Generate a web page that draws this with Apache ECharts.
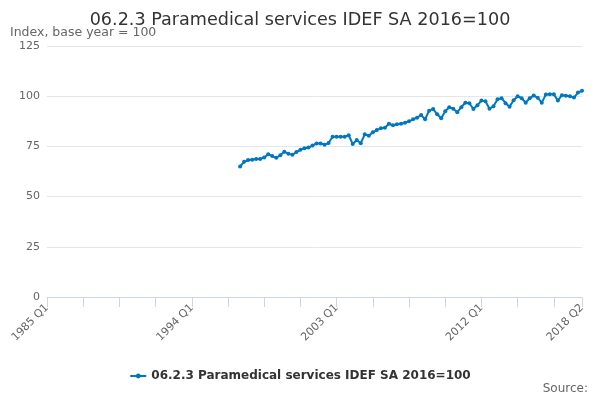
<!DOCTYPE html>
<html>
<head>
<meta charset="utf-8">
<script src="https://cdn.jsdelivr.net/npm/echarts@6/dist/echarts.min.js"></script>
<style>
  html, body { margin: 0; padding: 0; background: #fff; }
  #main { width: 600px; height: 400px; }
</style>
</head>
<body>
<div id="main"></div>
<script>
// quarters on the axis: 1985 Q1 .. 2018 Q2
var startYear = 1985;
var endYear = 2018;
var endQuarter = 2;
var quarters = [];
for (var y = startYear; y <= endYear; y++) {
    for (var q = 1; q <= 4; q++) {
        if (y === endYear && q > endQuarter) break;
        quarters.push(y + ' Q' + q);
    }
}

// series starts at 1997 Q1
var seriesStart = '1997 Q1';
var indexValues = [
    65.0, 67.3, 68.2, 68.3, 68.7, 68.7, 69.5, 71.1,   // 1997-1998
    70.2, 69.3, 70.6, 72.3, 71.4, 70.8, 72.2, 73.3,   // 1999-2000
    74.1, 74.4, 75.4, 76.5, 76.5, 75.8, 76.7, 79.8,   // 2001-2002
    79.8, 79.8, 79.8, 80.6, 76.2, 78.2, 76.6, 81.0,   // 2003-2004
    80.3, 82.0, 83.2, 84.0, 84.3, 86.3, 85.5, 86.0,   // 2005-2006
    86.3, 86.8, 87.5, 88.5, 89.3, 90.6, 88.5, 92.8,   // 2007-2008
    93.6, 91.0, 89.0, 92.5, 94.5, 93.8, 92.0, 94.5,   // 2009-2010
    96.8, 96.5, 93.6, 95.5, 97.8, 97.5, 93.8, 95.0,   // 2011-2012
    98.5, 99.0, 96.5, 94.8, 98.0, 100.0, 99.0, 96.8,  // 2013-2014
    99.0, 100.3, 99.2, 96.8, 100.8, 101.0, 101.0, 97.8, // 2015-2016
    100.5, 100.2, 100.0, 99.3, 101.8, 102.7           // 2017-2018 Q2
];

var yTicks = [0, 25, 50, 75, 100, 125];
var labelQuarters = ['1985 Q1', '1994 Q1', '2003 Q1', '2012 Q1', '2018 Q2'];
var seriesName = '06.2.3 Paramedical services IDEF SA 2016=100';

var offset = quarters.indexOf(seriesStart);
var seriesData = quarters.map(function (c, i) {
    var v = indexValues[i - offset];
    return (i < offset || v === undefined) ? null : v;
});

var myChart = echarts.init(document.getElementById('main'));

var option = {
    textStyle: { fontFamily: 'DejaVu Sans' },
    title: [
        {
            text: seriesName,
            left: 'center',
            top: 6,
            textStyle: { fontSize: 17.6, fontWeight: 'normal', color: '#333' }
        },
        {
            text: 'Index, base year = 100',
            left: 10,
            top: 26,
            padding: 0,
            textStyle: { fontSize: 12.5, fontWeight: 'normal', color: '#666' }
        },
        {
            text: 'Source:',
            right: 12,
            top: 383,
            padding: 0,
            textStyle: { fontSize: 12, fontWeight: 'normal', color: '#666' }
        }
    ],
    legend: {
        top: 365,
        left: 'center',
        itemWidth: 16,
        itemHeight: 6,
        textStyle: { fontSize: 12, fontWeight: 'bold', color: '#333' },
        data: [seriesName]
    },
    grid: {
        left: 47,
        right: 18,
        top: 46,
        bottom: 103
    },
    xAxis: {
        type: 'category',
        data: quarters,
        boundaryGap: false,
        axisLine: { lineStyle: { color: '#ccd6eb' } },
        axisTick: {
            length: 10,
            lineStyle: { color: '#ccd6eb' },
            interval: function (index) {
                return index % 9 === 0 || index === quarters.length - 1;
            }
        },
        axisLabel: {
            rotate: 45,
            color: '#666',
            fontSize: 11,
            margin: 9,
            interval: function (index, value) {
                return labelQuarters.indexOf(value) >= 0;
            }
        },
        splitLine: { show: false }
    },
    yAxis: {
        type: 'value',
        min: yTicks[0],
        max: yTicks[yTicks.length - 1],
        interval: 25,
        axisLine: { show: false },
        axisTick: { show: false },
        axisLabel: { color: '#666', fontSize: 11, margin: 7 },
        splitLine: { lineStyle: { color: '#e6e6e6' } }
    },
    series: [{
        name: seriesName,
        type: 'line',
        data: seriesData,
        symbol: 'circle',
        symbolSize: 4,
        showAllSymbol: true,
        itemStyle: { color: '#0077bf' },
        lineStyle: { width: 2, color: '#0077bf' }
    }]
};

myChart.setOption(option);
</script>
</body>
</html>
